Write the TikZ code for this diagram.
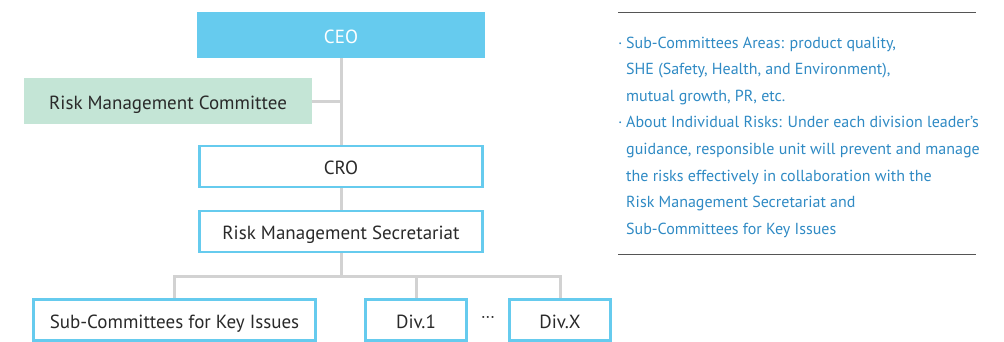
\documentclass[tikz,border=0pt]{standalone}
\usepackage{fontspec}
\setmainfont{PT Sans}
\usetikzlibrary{positioning}
\definecolor{ceoblue}{HTML}{66CBEE}
\definecolor{rmcgreen}{HTML}{C4E5D6}
\definecolor{linegray}{HTML}{D2D2D2}
\definecolor{noteblue}{HTML}{2F8AC4}
\definecolor{boxtext}{HTML}{2A2A2A}
\definecolor{rulegray}{HTML}{555555}
\begin{document}
\begin{tikzpicture}[x=1pt,y=-1pt,
  label font/.style={font=\fontsize{19}{22}\selectfont, text height=16.6pt, text depth=0pt},
  box/.style={draw=ceoblue, line width=2.6pt, fill=white, text=boxtext, inner sep=0pt,
    minimum height=41pt, label font},
  link/.style={draw=linegray, line width=3pt}]
\useasboundingbox (0,0) rectangle (1004,341);
% top of the chart
\node[fill=ceoblue, text=white, minimum width=288pt, minimum height=46pt, inner sep=0pt,
  label font] (ceo) at (341,35) {CEO};
\node[fill=rmcgreen, text=boxtext, minimum width=288pt, minimum height=46pt, inner sep=0pt,
  label font] (rmc) at (168,101) {Risk Management Committee};
\node[box, minimum width=283pt] (cro) at (341,166.5) {CRO};
\node[box, minimum width=283pt] (sec) at (341,231.5) {Risk Management Secretariat};
% bottom row
\node[box, minimum width=282pt] (subc) at (174.5,320) {Sub-Committees for Key Issues};
\node[box, minimum width=101pt] (div1) at (416,320) {Div.1};
\node[box, minimum width=101pt] (divx) at (560,320) {Div.X};
\node[text=boxtext, font=\fontsize{17}{20}\selectfont] (dots) at (488,319) {···};
\coordinate (bus) at (341,276);
% connectors
\path[link] (ceo.south) -- (cro.north);
\path[link] (rmc.east) -- (ceo.south |- rmc.east);
\path[link] (cro.south) -- (sec.north);
\path[link] (sec.south) -- (bus);
\path[link] (subc.north) |- (divx.north |- bus) -- (divx.north);
\path[link] (div1.north) -- (div1.north |- bus);
% notes on the right
\draw[rulegray, line width=1pt] (618,12) -- (976,12);
\draw[rulegray, line width=1pt] (618,254) -- (976,254);
\node[anchor=north west, inner sep=0pt, text=noteblue, align=left,
  font=\fontsize{16}{26.6}\selectfont] (note) at (618,36.5) {%
  \makebox[8pt][l]{·}Sub-Committees Areas: product quality,\\
  \hspace*{8pt}SHE (Safety, Health, and Environment),\\
  \hspace*{8pt}mutual growth, PR, etc.\\
  \makebox[8pt][l]{·}About Individual Risks: Under each division leader’s\\
  \hspace*{8pt}guidance, responsible unit will prevent and manage\\
  \hspace*{8pt}the risks effectively in collaboration with the\\
  \hspace*{8pt}Risk Management Secretariat and\\
  \hspace*{8pt}Sub-Committees for Key Issues};
\end{tikzpicture}
\end{document}
